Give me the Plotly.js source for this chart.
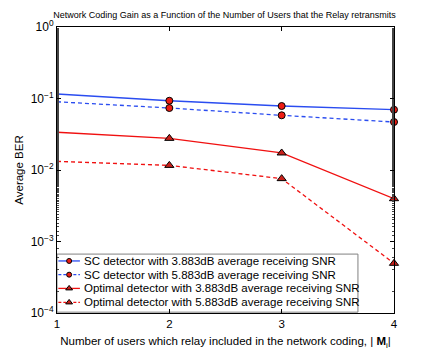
<!DOCTYPE html>
<html><head><meta charset="utf-8">
<script src="https://cdn.plot.ly/plotly-3.0.1.min.js"></script>
<style>html,body{margin:0;padding:0;background:#fff}</style>
</head><body><div id="chart" style="width:436px;height:356px"></div>
<script>
const users = [1, 2, 3, 4];
const scSnr3883 = [0.1156, 0.093, 0.0785, 0.0697];
const scSnr5883 = [0.090, 0.0736, 0.0582, 0.0469];
const optSnr3883 = [0.0337, 0.0277, 0.0173, 0.00397];
const optSnr5883 = [0.0132, 0.0116, 0.00757, 0.000495];
const seriesNames = [
  'SC detector with 3.883dB average receiving SNR',
  'SC detector with 5.883dB average receiving SNR',
  'Optimal detector with 3.883dB average receiving SNR',
  'Optimal detector with 5.883dB average receiving SNR'
];
const yTickVals = [1, 0.1, 0.01, 0.001, 0.0001];
const yTickText = ['10<sup>0</sup>', '10<sup>−1</sup>', '10<sup>−2</sup>', '10<sup>−3</sup>', '10<sup>−4</sup>'];
const xTickVals = [1, 2, 3, 4];

const BLUE = '#2a4cf0', RED = '#f01010';
const styles = [
  {color: BLUE, dash: 'solid', symbol: 'circle', fill: '#ee1c14', size: 7},
  {color: BLUE, dash: '4px,3px', symbol: 'circle', fill: '#ee1c14', size: 7},
  {color: RED, dash: 'solid', symbol: 'triangle-up', fill: '#c8201a', size: 8},
  {color: RED, dash: '4px,3px', symbol: 'triangle-up', fill: '#c8201a', size: 8}
];
const series = [scSnr3883, scSnr5883, optSnr3883, optSnr5883];

const traces = series.map((ys, i) => ({
  x: users, y: ys, name: seriesNames[i], mode: 'lines+markers', showlegend: false,
  cliponaxis: false, opacity: 1,
  line: {color: styles[i].color, width: 1.3, dash: styles[i].dash},
  marker: {symbol: styles[i].symbol, color: styles[i].fill, opacity: 1,
           size: users.map((u, k) => k === 0 ? 0 : styles[i].size),
           line: {color: '#000', width: 1}}
}));

// hand-made legend (MATLAB style): box, sample symbols on an overlay axis, text annotations
const legRows = [0.182, 0.134, 0.086, 0.037];
const legSampleX = [0.004, 0.036, 0.068];
seriesNames.forEach((nm, i) => {
  traces.push({
    x: legSampleX, y: legSampleX.map(() => legRows[i]), xaxis: 'x2', yaxis: 'y2',
    mode: 'lines+markers', showlegend: false, hoverinfo: 'skip', cliponaxis: false,
    line: {color: styles[i].color, width: 1.3, dash: i % 2 ? '3px,2px' : 'solid'},
    marker: {symbol: styles[i].symbol, color: styles[i].fill, opacity: 1,
             size: [0, styles[i].size - 2, 0], line: {color: '#000', width: 1}}
  });
});
const annotations = seriesNames.map((nm, i) => ({
  text: nm, xref: 'paper', yref: 'paper', x: 0.073, y: legRows[i],
  xanchor: 'left', yanchor: 'middle', showarrow: false, font: {size: 11.5}
}));

const layout = {
  width: 436, height: 356,
  margin: {l: 57, r: 42, t: 27, b: 43},
  paper_bgcolor: '#fff', plot_bgcolor: '#fff',
  font: {family: 'Liberation Sans, Arial, sans-serif', size: 11, color: '#000'},
  title: {text: 'Network Coding Gain as a Function of the Number of Users that the Relay retransmits',
          font: {size: 9}, x: 0.515, xanchor: 'center', y: 0.958, yanchor: 'middle'},
  xaxis: {
    range: [1, 4], tickvals: xTickVals, ticks: 'inside', ticklen: 4, tickcolor: '#000',
    showline: true, linecolor: '#000', linewidth: 1, mirror: 'ticks', showgrid: false, zeroline: false,
    tickfont: {size: 11.5},
    title: {text: 'Number of users which relay included in the network coding, | <b>M</b><sub>i</sub>|',
            font: {size: 11.5}, standoff: 8}
  },
  yaxis: {
    type: 'log', range: [-4, 0], tickvals: yTickVals, ticktext: yTickText,
    ticks: 'inside', ticklen: 4, tickcolor: '#000',
    minor: {ticks: 'inside', ticklen: 2, tickcolor: '#444', showgrid: false},
    showline: true, linecolor: '#000', linewidth: 1, mirror: 'ticks', showgrid: false, zeroline: false,
    tickfont: {size: 12},
    title: {text: 'Average BER', font: {size: 11.5}, standoff: 4}
  },
  xaxis2: {overlaying: 'x', range: [0, 1], visible: false, fixedrange: true},
  yaxis2: {overlaying: 'y', range: [0, 1], visible: false, fixedrange: true},
  shapes: [{type: 'rect', xref: 'paper', yref: 'paper', x0: 0, x1: 0.893, y0: 0.003, y1: 0.206,
            line: {color: '#808080', width: 1}, fillcolor: '#fff', layer: 'below'}],
  annotations: annotations,
  showlegend: false
};

Plotly.newPlot('chart', traces, layout, {displayModeBar: false, staticPlot: true});
</script>
</body></html>
